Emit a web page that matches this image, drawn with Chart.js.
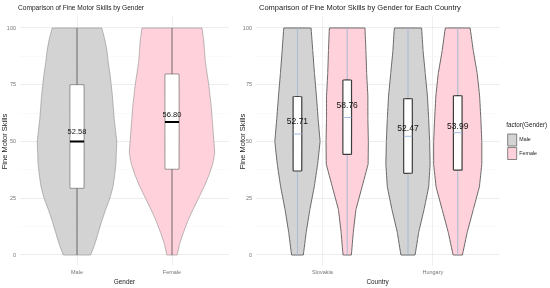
<!DOCTYPE html>
<html>
<head>
<meta charset="utf-8">
<title>Fine Motor Skills by Gender</title>
<script src="https://cdn.jsdelivr.net/npm/chart.js@4.4.1/dist/chart.umd.min.js"></script>
<style>
  html, body { margin: 0; padding: 0; background: #fff; overflow: hidden; }
  #wrap { position: relative; width: 550px; height: 288px; }
  canvas { position: absolute; top: 0; }
  #genderChart { left: 0; }
  #countryChart { left: 238px; }
</style>
</head>
<body>
<div id="wrap">
  <canvas id="genderChart" width="238" height="288"></canvas>
  <canvas id="countryChart" width="312" height="288"></canvas>
</div>
<script>
// ---- data ----
const genders = ['Male', 'Female'];
const countries = ['Slovakia', 'Hungary'];
const yTickValues = [0, 25, 50, 75, 100];
const yGridValues = [0, 12.5, 25, 37.5, 50, 62.5, 75, 87.5, 100];

// left panel: relative violin width at each score level (1 = widest violin)
const genderLevels  = [100, 95, 90, 85, 80, 75, 70, 65, 60, 55, 50, 45, 40, 35, 30, 25, 20, 15, 10, 5, 0];
const maleDensity   = [0.58, 0.65, 0.70, 0.73, 0.77, 0.80, 0.83, 0.85, 0.87, 0.90, 0.93, 0.92, 0.91, 0.88, 0.84, 0.77, 0.67, 0.58, 0.50, 0.42, 0.32];
const femaleDensity = [0.70, 0.74, 0.76, 0.78, 0.82, 0.86, 0.89, 0.92, 0.94, 0.96, 0.98, 1.00, 0.95, 0.86, 0.75, 0.62, 0.49, 0.37, 0.27, 0.18, 0.12];
const genderMin    = [0, 0];
const genderQ1     = [29.4, 37.8];
const genderMedian = [50.0, 58.6];
const genderQ3     = [75.0, 79.7];
const genderMax    = [100, 100];
const genderMeans  = [52.58, 56.80];
const genderLabelY = [54.2, 61.7];

// right panel, groups: Slovakia-Male, Slovakia-Female, Hungary-Male, Hungary-Female
const groupCountry = [0, 0, 1, 1];
const groupGender  = [0, 1, 0, 1];
const countryLevels   = [100, 90, 80, 70, 60, 50, 40, 30, 20, 10, 0];
const skMaleDensity   = [0.56, 0.63, 0.70, 0.78, 0.85, 0.93, 0.83, 0.69, 0.51, 0.36, 0.24];
const skFemaleDensity = [0.73, 0.77, 0.80, 0.85, 0.85, 0.87, 0.86, 0.61, 0.36, 0.25, 0.17];
const huMaleDensity   = [0.56, 0.62, 0.71, 0.80, 0.85, 0.89, 0.91, 0.85, 0.66, 0.44, 0.29];
const huFemaleDensity = [0.51, 0.64, 0.80, 0.90, 0.95, 0.99, 0.99, 0.89, 0.64, 0.39, 0.19];
const countryMin    = [0, 0, 0, 0];
const countryQ1     = [37.0, 44.3, 36.0, 37.4];
const countryMedian = [53.3, 60.6, 52.3, 53.9];
const countryQ3     = [69.8, 77.1, 68.9, 70.2];
const countryMax    = [100, 100, 100, 100];
const countryMeans  = [52.71, 58.76, 52.47, 53.99];
const countryLabelY = [58.9, 65.6, 55.8, 56.7];

const FONT = "'Liberation Sans', Arial, sans-serif";
const fills = ['#d3d3d3', '#ffd1db'];

// closed outline: right side top->bottom, then left side bottom->top
function violinShape(center, levels, density, halfMax) {
    const right = levels.map((v, i) => ({ x: center + density[i] * halfMax, y: v }));
    const left = levels.map((v, i) => ({ x: center - density[i] * halfMax, y: v })).reverse();
    return right.concat(left, [right[0]]);
}

function boxShape(center, half, q1, q3) {
    return [
        { x: center - half, y: q1 }, { x: center + half, y: q1 },
        { x: center + half, y: q3 }, { x: center - half, y: q3 },
        { x: center - half, y: q1 }
    ];
}

// tiny tension keeps chart.js off its x-sorted fast path (outlines are not monotonic in x)
const lineDefaults = { showLine: true, pointRadius: 0, pointHoverRadius: 0, tension: 0.01, fill: false, xAxisID: 'x', yAxisID: 'y' };

// --- datasets, left panel ---
const genderDensities = [maleDensity, femaleDensity];
const genderDatasets = [];
genders.forEach((g, i) => {
    const c = i + 1;
    genderDatasets.push({ ...lineDefaults, label: g, data: violinShape(c, genderLevels, genderDensities[i], 0.45),
        backgroundColor: fills[i], borderColor: '#8a8a8a', borderWidth: 0.6, fill: 'shape', order: 4 });
    genderDatasets.push({ ...lineDefaults, label: g + ' range', data: [{ x: c, y: genderMin[i] }, { x: c, y: genderMax[i] }],
        borderColor: '#4d4d4d', borderWidth: 0.8, order: 3 });
    genderDatasets.push({ ...lineDefaults, label: g + ' box', data: boxShape(c, 0.074, genderQ1[i], genderQ3[i]),
        backgroundColor: '#ffffff', borderColor: '#555555', borderWidth: 0.6, fill: 'shape', order: 2 });
    genderDatasets.push({ ...lineDefaults, label: g + ' median', data: [{ x: c - 0.074, y: genderMedian[i] }, { x: c + 0.074, y: genderMedian[i] }],
        borderColor: '#000000', borderWidth: 2, order: 1 });
});

// --- datasets, right panel ---
const countryDensities = [skMaleDensity, skFemaleDensity, huMaleDensity, huFemaleDensity];
const dodge = 0.225;
const groupCenters = groupCountry.map((ci, k) => ci + 1 + (groupGender[k] === 0 ? -dodge : dodge));
const countryDatasets = [];
groupCenters.forEach((c, k) => {
    const gi = groupGender[k];
    countryDatasets.push({ ...lineDefaults, label: countries[groupCountry[k]] + ' ' + genders[gi],
        data: violinShape(c, countryLevels, countryDensities[k], 0.22),
        backgroundColor: fills[gi], borderColor: '#5a5a5a', borderWidth: 0.9, fill: 'shape', order: 4 });
    countryDatasets.push({ ...lineDefaults, label: 'range', data: [{ x: c, y: countryMin[k] }, { x: c, y: countryMax[k] }],
        borderColor: '#a9b9d6', borderWidth: 1, order: 3 });
    countryDatasets.push({ ...lineDefaults, label: 'box', data: boxShape(c, 0.039, countryQ1[k], countryQ3[k]),
        backgroundColor: '#ffffff', borderColor: '#3c3c3c', borderWidth: 1.2, fill: 'shape', order: 2 });
    countryDatasets.push({ ...lineDefaults, label: 'median', data: [{ x: c - 0.039, y: countryMedian[k] }, { x: c + 0.039, y: countryMedian[k] }],
        borderColor: '#9db4dc', borderWidth: 1, order: 1 });
});

// panel title + mean labels, drawn on the chart canvas
function panelText(title, titleX, titleSize, labels, labelSize) {
    return {
        id: 'panelText',
        afterDatasetsDraw(chart) {
            const ctx = chart.ctx;
            const xs = chart.scales.x, ys = chart.scales.y;
            ctx.save();
            ctx.fillStyle = '#111111';
            ctx.textAlign = 'center';
            ctx.textBaseline = 'middle';
            ctx.font = labelSize + 'px ' + FONT;
            labels.forEach(l => ctx.fillText(l.text, xs.getPixelForValue(l.x), ys.getPixelForValue(l.y)));
            ctx.restore();
        },
        afterDraw(chart) {
            const ctx = chart.ctx;
            ctx.save();
            ctx.fillStyle = '#222222';
            ctx.textAlign = 'left';
            ctx.textBaseline = 'middle';
            ctx.font = titleSize + 'px ' + FONT;
            ctx.fillText(title, titleX, 8);
            ctx.restore();
        }
    };
}

function baseScales(categories, xTitle, yWidth) {
    return {
        x: {
            type: 'linear', min: 0.4, max: 2.6,
            afterBuildTicks: s => { s.ticks = categories.map((_, i) => ({ value: i + 1 })); },
            afterFit: s => { s.height = 21.65; },
            grid: { color: '#ebebeb', lineWidth: 0.8, drawTicks: false },
            border: { display: false },
            ticks: { padding: 3, color: '#777777', autoSkip: false, maxRotation: 0,
                font: { family: FONT, size: 5.5 },
                callback: v => categories[Math.round(v) - 1] },
            title: { display: true, text: xTitle, color: '#222222', font: { family: FONT, size: 6.4 }, padding: { top: 0, bottom: 2.2 } }
        },
        y: {
            type: 'linear', position: 'left', min: -5, max: 105,
            afterBuildTicks: s => { s.ticks = yGridValues.map(v => ({ value: v })); },
            afterFit: s => { s.width = yWidth; },
            grid: {
                drawTicks: false,
                color: c => (c.tick && yTickValues.includes(c.tick.value)) ? '#e9e9e9' : '#f4f4f4',
                lineWidth: c => (c.tick && yTickValues.includes(c.tick.value)) ? 0.8 : 0.5
            },
            border: { display: false },
            ticks: { padding: 4, color: '#777777', autoSkip: false, font: { family: FONT, size: 5.5 },
                callback: v => yTickValues.includes(v) ? String(v) : '' },
            title: { display: true, text: 'Fine Motor Skills', color: '#222222', font: { family: FONT, size: 7.5 }, padding: { top: 0.6, bottom: 0 } }
        }
    };
}

new Chart(document.getElementById('genderChart'), {
    type: 'scatter',
    data: { datasets: genderDatasets },
    options: {
        responsive: false, animation: false, devicePixelRatio: 1, events: [],
        layout: { padding: { top: 16.65, right: 9, bottom: 0, left: 0 } },
        plugins: { legend: { display: false }, tooltip: { enabled: false } },
        scales: baseScales(genders, 'Gender', 20)
    },
    plugins: [panelText('Comparison of Fine Motor Skills by Gender', 18, 6.6,
        genders.map((g, i) => ({ text: genderMeans[i].toFixed(2), x: i + 1, y: genderLabelY[i] })), 7.5)]
});

const countryScales = baseScales(countries, 'Country', 18);
countryScales.pad = {
    type: 'linear', axis: 'y', position: 'right', display: true,
    grid: { display: false }, border: { display: false }, ticks: { display: false },
    afterFit: s => { s.width = 7; }
};

new Chart(document.getElementById('countryChart'), {
    type: 'scatter',
    data: { datasets: countryDatasets },
    options: {
        responsive: false, animation: false, devicePixelRatio: 1, events: [],
        layout: { padding: { top: 16.65, right: 3, bottom: 0, left: 0 } },
        plugins: {
            tooltip: { enabled: false },
            legend: {
                display: true, position: 'right', align: 'center', fullSize: false,
                title: { display: true, text: 'factor(Gender)', color: '#222222', position: 'start',
                    font: { family: FONT, size: 6.3 }, padding: { top: 0, bottom: 3 } },
                labels: {
                    boxWidth: 9, boxHeight: 12, padding: 1.5, color: '#333333',
                    font: { family: FONT, size: 5.3 },
                    generateLabels: () => genders.map((g, i) => ({
                        text: g, fillStyle: fills[i], strokeStyle: '#666666', lineWidth: 0.8, hidden: false, index: i
                    }))
                }
            }
        },
        scales: countryScales
    },
    plugins: [panelText('Comparison of Fine Motor Skills by Gender for Each Country', 21, 7.5,
        groupCenters.map((c, k) => ({ text: countryMeans[k].toFixed(2), x: c, y: countryLabelY[k] })), 8.5)]
});
</script>
</body>
</html>
